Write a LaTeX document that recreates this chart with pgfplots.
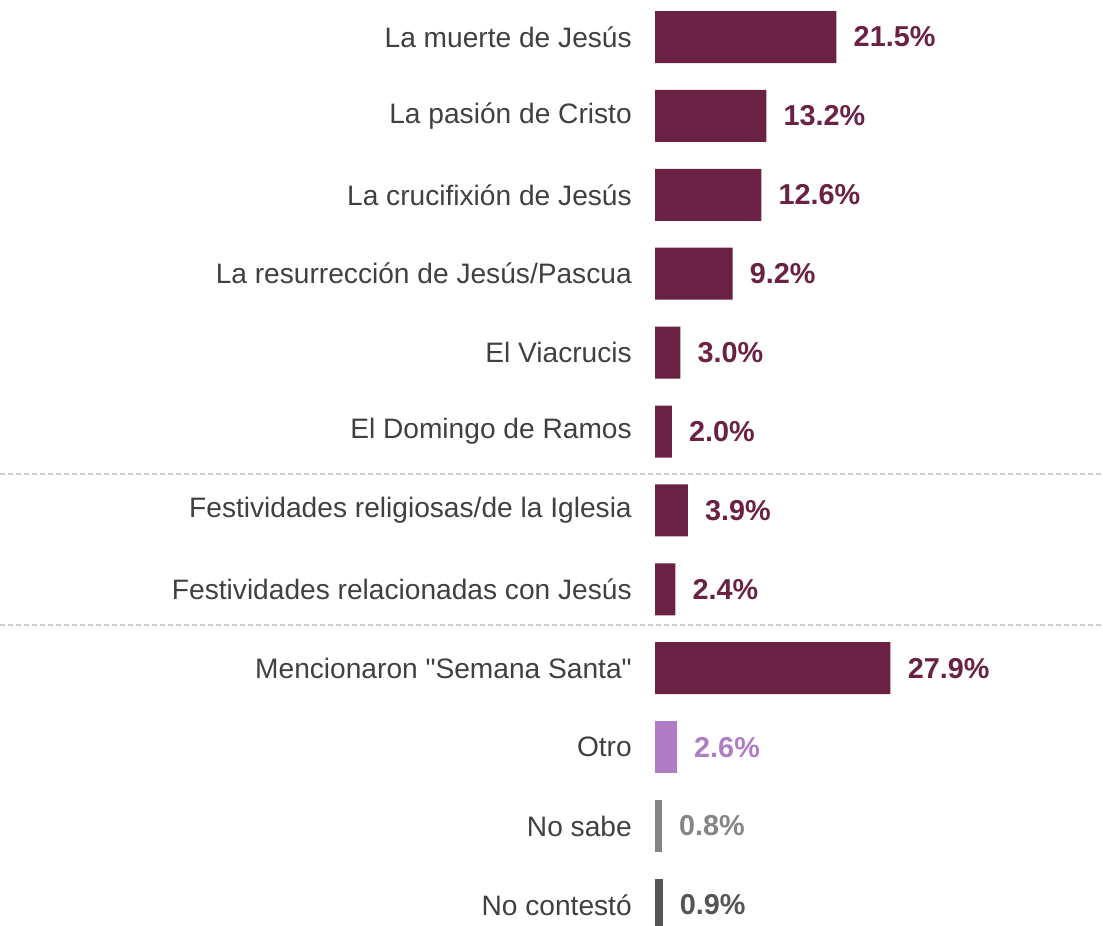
\documentclass[border=0pt]{standalone}
\usepackage{pgfplots}
\pgfplotsset{compat=1.18}
\usepackage{fontspec}
\setmainfont{Liberation Sans}
\definecolor{maroon}{HTML}{6A2144}
\definecolor{otro}{HTML}{B07CC6}
\definecolor{nosabe}{HTML}{858585}
\definecolor{nocont}{HTML}{555555}
\definecolor{lbl}{HTML}{404040}
\definecolor{dashgrey}{HTML}{D0D0D0}
\begin{document}
\begin{tikzpicture}
\clip (0,0) rectangle (827.25pt,693.75pt);
\begin{axis}[
  at={(0,0)}, anchor=south west,
  scale only axis,
  width=827.25pt, height=693.75pt,
  xmin=-77.61, xmax=53.08,
  ymin=-0.469, ymax=11.255,
  y dir=reverse,
  axis line style={draw=none},
  major tick length=0pt,
  xtick=\empty,
  ytick={0,...,11},
  yticklabels={La muerte de Jesús, La pasión de Cristo, La crucifixión de Jesús, La resurrección de Jesús/Pascua, El Viacrucis, El Domingo de Ramos, Festividades religiosas/de la Iglesia, Festividades relacionadas con Jesús, Mencionaron {\textquotedbl}Semana Santa{\textquotedbl}, Otro, No sabe, No contestó},
  yticklabel style={anchor=east, inner sep=0pt, xshift=474pt, font=\fontsize{21.1}{24}\selectfont, text=lbl},
  xbar, bar width=39pt, bar shift=0pt,
  clip=false,
  point meta=x,
  /pgf/number format/assume math mode=true,
  nodes near coords={\pgfmathprintnumber[fixed,fixed zerofill,precision=1]{\pgfplotspointmeta}\%},
  every node near coord/.append style={anchor=west, inner sep=0pt, xshift=12.75pt, font=\fontsize{21.6}{24}\selectfont\bfseries},
]
\draw[dashgrey, line width=1.1pt, dash pattern=on 3.75pt off 2.25pt] (axis cs:-77.61,5.54) -- (axis cs:53.08,5.54);
\draw[dashgrey, line width=1.1pt, dash pattern=on 3.75pt off 2.25pt] (axis cs:-77.61,7.45) -- (axis cs:53.08,7.45);
\addplot[fill=maroon, draw=none, every node near coord/.append style={text=maroon}] coordinates {
(21.5,0) (13.2,1) (12.6,2) (9.2,3) (3.0,4) (2.0,5) (3.9,6) (2.4,7) (27.9,8)};
\addplot[fill=otro, draw=none, every node near coord/.append style={text=otro}] coordinates {(2.6,9)};
\addplot[fill=nosabe, draw=none, every node near coord/.append style={text=nosabe}] coordinates {(0.8,10)};
\addplot[fill=nocont, draw=none, every node near coord/.append style={text=nocont}] coordinates {(0.9,11)};
\end{axis}
\end{tikzpicture}
\end{document}
